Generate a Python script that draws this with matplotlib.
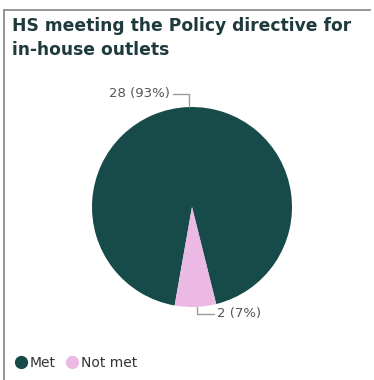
import matplotlib.pyplot as plt
from matplotlib.lines import Line2D

# data
labels = ['Met', 'Not met']
counts = [28, 2]
colors = ['#164b4a', '#ebb9e3']
title = 'HS meeting the Policy directive for\nin-house outlets'

total = sum(counts)
pcts = [round(c / total * 100) for c in counts]

fig = plt.figure(figsize=(3.74, 3.80), dpi=100)

# panel border (left + top only)
fig.add_artist(Line2D([4 / 374, 4 / 374], [0, 1 - 10 / 380],
                      color='#8a8f8f', lw=1.3, transform=fig.transFigure))
fig.add_artist(Line2D([4 / 374, 370 / 374], [1 - 10 / 380, 1 - 10 / 380],
                      color='#8a8f8f', lw=1.3, transform=fig.transFigure))

fig.text(12 / 374, 1 - 17 / 380, title, ha='left', va='top',
         fontsize=12.3, fontweight='bold', color='#1f3a3d',
         family='DejaVu Sans', linespacing=1.4)

# pie axes: centre (192, 207) px, radius 100 px
ax = fig.add_axes([92 / 374, 1 - 307 / 380, 200 / 374, 200 / 380])
slice_deg = 360 * counts[1] / total
start = 272 + slice_deg / 2
ax.pie(counts, colors=colors, startangle=start, counterclock=True,
       wedgeprops=dict(linewidth=0))
ax.set_xlim(-1, 1)
ax.set_ylim(-1, 1)
ax.set_aspect('equal')
ax.axis('off')

line_kw = dict(arrowstyle='-', color='#9a9a9a', lw=1.0,
               shrinkA=0, shrinkB=0)
ax.annotate(f'{counts[0]} ({pcts[0]}%)', xy=(-0.03, 1.0),
            xytext=(-0.22, 1.13), ha='right', va='center',
            fontsize=9.5, color='#555555', annotation_clip=False,
            arrowprops=dict(connectionstyle='angle,angleA=0,angleB=90,rad=0',
                            **line_kw))
ax.annotate(f'{counts[1]} ({pcts[1]}%)', xy=(0.05, -1.0),
            xytext=(0.25, -1.07), ha='left', va='center',
            fontsize=9.5, color='#555555', annotation_clip=False,
            arrowprops=dict(connectionstyle='angle,angleA=0,angleB=90,rad=0',
                            **line_kw))

handles = [Line2D([], [], marker='o', ls='', markersize=8.5,
                  markerfacecolor=c, markeredgecolor=c) for c in colors]
fig.legend(handles, labels, loc='center left',
           bbox_to_anchor=(6 / 374, 1 - 363 / 380), ncol=2, frameon=False,
           handletextpad=0.0, columnspacing=0.6, handlelength=1.2,
           borderpad=0, prop=dict(size=10), labelcolor='#333333')

fig.savefig('out.png', dpi=100)
